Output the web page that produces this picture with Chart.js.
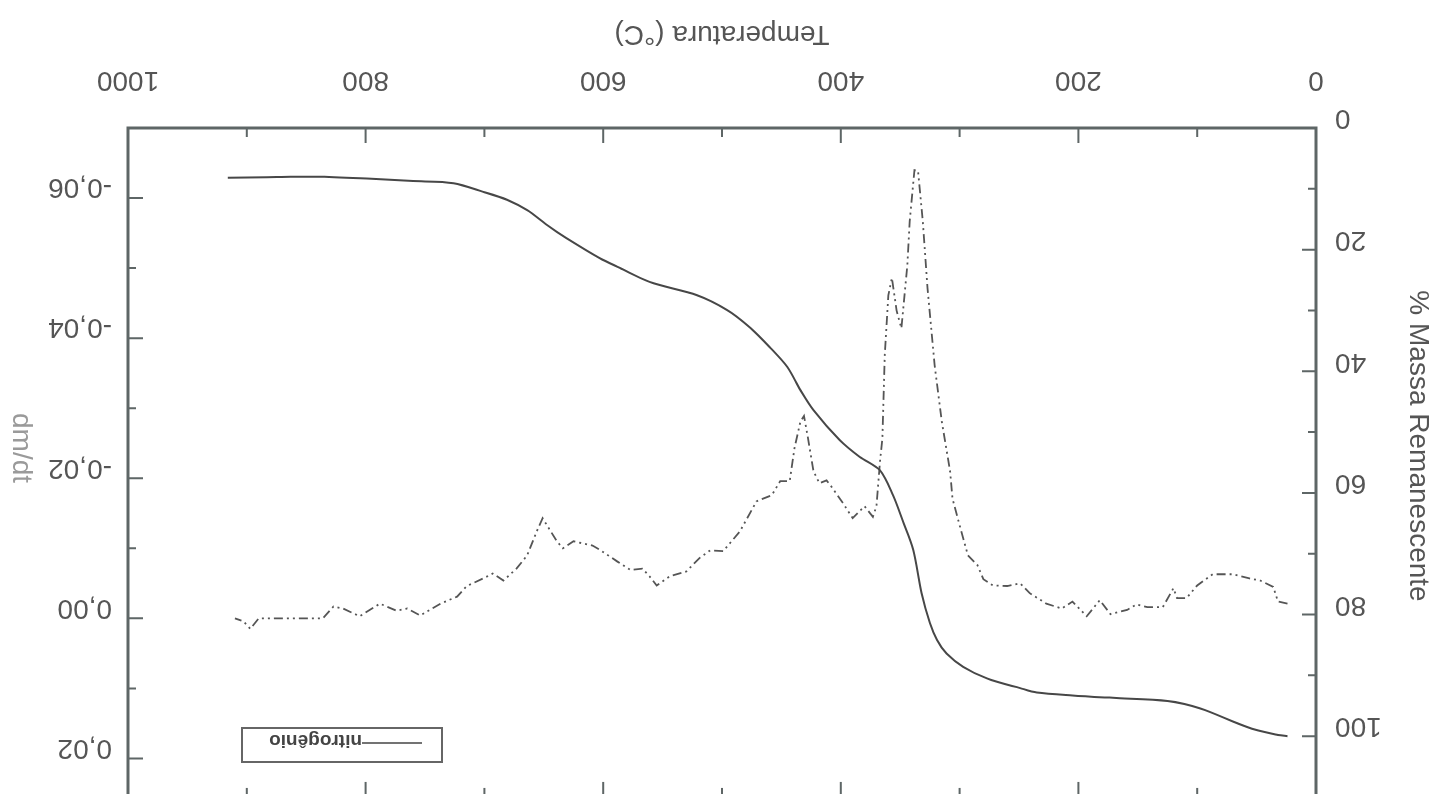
<!DOCTYPE html>
<html>
<head>
<meta charset="utf-8">
<script src="https://cdn.jsdelivr.net/npm/chart.js@4"></script>
<style>
  html, body { margin: 0; padding: 0; background: #fff; overflow: hidden; }
  /* the scanned figure is upside down, so the whole chart is turned 180deg */
  #wrap { position: absolute; left: 0; top: 0; width: 1438px; height: 850px; transform: rotate(180deg); }
</style>
</head>
<body>
<div id="wrap"><canvas id="myC" width="1438" height="850"></canvas></div>
<script>
// % massa remanescente (curva cheia)
const massTemp = [24, 32, 58, 98, 125, 171, 205, 235, 249, 277, 297, 311, 319, 325, 332, 339, 348, 356, 367, 384, 401, 423, 434, 445, 460, 476, 496, 521, 561, 586, 603, 631, 647, 664, 681, 701, 726, 760, 799, 841, 883, 916];
const massVal = [100, 99.8, 98.5, 95.4, 94.2, 93.7, 93.3, 92.8, 92.1, 90.5, 88.6, 86.4, 84.2, 81.4, 76.5, 69.4, 64.5, 60.4, 56.3, 54.1, 51.3, 46.4, 43.1, 39.3, 36.0, 32.9, 29.9, 27.5, 25.3, 23.0, 21.4, 18.1, 16.0, 13.5, 11.8, 10.5, 9.1, 8.7, 8.3, 8.0, 8.1, 8.2];

// dm/dt (curva traco-ponto-ponto)
const dmdtTemp = [24, 32, 36, 47, 56, 70, 87, 100, 109, 117, 120, 129, 142, 151, 159, 173, 182, 193, 205, 214, 227, 241, 249, 260, 272, 280, 285, 293, 300, 306, 308, 315, 321, 327, 331, 335, 338, 342, 344, 349, 353, 357, 360, 363, 365, 367, 370, 373, 380, 390, 398, 407, 412, 418, 423, 428, 431, 434, 439, 443, 451, 458, 471, 485, 499, 510, 519, 530, 544, 555, 561, 567, 577, 588, 603, 609, 625, 634, 639, 651, 656, 664, 673, 684, 693, 701, 715, 723, 737, 754, 765, 774, 788, 805, 819, 827, 836, 855, 883, 890, 897, 903, 910];
const dmdtVal = [-0.0021, -0.0024, -0.0045, -0.0054, -0.0057, -0.0063, -0.0063, -0.0047, -0.0029, -0.0029, -0.0043, -0.0016, -0.0016, -0.0020, -0.0012, -0.0006, -0.0026, -0.0003, -0.0024, -0.0014, -0.0021, -0.0036, -0.0050, -0.0046, -0.0047, -0.0056, -0.0076, -0.0090, -0.0133, -0.0171, -0.0210, -0.0281, -0.0361, -0.0471, -0.0567, -0.0639, -0.0640, -0.0567, -0.0504, -0.0414, -0.0439, -0.0486, -0.0461, -0.0376, -0.0257, -0.0224, -0.0160, -0.0145, -0.0160, -0.0143, -0.0164, -0.0186, -0.0197, -0.0193, -0.0210, -0.0261, -0.0289, -0.0281, -0.0243, -0.0196, -0.0196, -0.0176, -0.0167, -0.0124, -0.0096, -0.0097, -0.0086, -0.0067, -0.0060, -0.0047, -0.0060, -0.0071, -0.0069, -0.0081, -0.0098, -0.0104, -0.0110, -0.0100, -0.0110, -0.0143, -0.0124, -0.0090, -0.0071, -0.0054, -0.0064, -0.0057, -0.0046, -0.0031, -0.0021, -0.0004, -0.0014, -0.0011, -0.0021, -0.0003, -0.0014, -0.0017, 0, 0, 0, 0, 0.0015, 0.0004, 0];

// eixos
const tempTicks = [0, 200, 400, 600, 800, 1000];
const tempMarks = [0, 100, 200, 300, 400, 500, 600, 700, 800, 900, 1000];
const massTicks = [0, 20, 40, 60, 80, 100];
const massMarks = [10, 20, 30, 40, 50, 60, 70, 80, 90, 100, 110];
const dmdtTicks = [-0.06, -0.04, -0.02, 0, 0.02];
const dmdtMarks = [-0.06, -0.05, -0.04, -0.03, -0.02, -0.01, 0, 0.01, 0.02];

const legendLabel = 'nitrogênio';
const xTitle = 'Temperatura (°C)';
const yTitle = '% Massa Remanescente';
const y2Title = 'dm/dt';

const FONT = '"Liberation Sans", Arial, sans-serif';
const axisColor = '#5e6666';
const textColor = '#555';

const isMajor = (v, list) => list.some(t => Math.abs(t - v) < 1e-9);

const framePlugin = {
  id: 'frame',
  afterDatasetsDraw(chart) {
    const { ctx, chartArea: a, scales } = chart;
    ctx.save();
    // moldura
    ctx.strokeStyle = axisColor;
    ctx.lineWidth = 3;
    ctx.strokeRect(a.left, a.top, a.right - a.left, a.bottom - a.top);

    // tracos para dentro
    ctx.lineWidth = 2;
    ctx.beginPath();
    tempMarks.forEach(v => {
      const x = scales.x.getPixelForValue(v);
      const len = isMajor(v, tempTicks) ? 15 : 9;
      ctx.moveTo(x, a.bottom); ctx.lineTo(x, a.bottom - len);
      ctx.moveTo(x, a.top); ctx.lineTo(x, a.top + len);
    });
    massMarks.forEach(v => {
      const y = scales.yMass.getPixelForValue(v);
      const len = isMajor(v, massTicks) ? 14 : 8;
      ctx.moveTo(a.left, y); ctx.lineTo(a.left + len, y);
    });
    dmdtMarks.forEach(v => {
      const y = scales.yD.getPixelForValue(v);
      const len = isMajor(v, dmdtTicks) ? 15 : 8;
      ctx.moveTo(a.right, y); ctx.lineTo(a.right - len, y);
    });
    ctx.stroke();

    // legenda
    const bx = a.right - 314, by = a.top + 35;
    ctx.lineWidth = 2;
    ctx.strokeStyle = '#666';
    ctx.strokeRect(bx, by, 200, 34);
    ctx.strokeStyle = '#444';
    ctx.lineWidth = 1.5;
    ctx.beginPath();
    ctx.moveTo(bx + 20, by + 19); ctx.lineTo(bx + 80, by + 19);
    ctx.stroke();
    ctx.fillStyle = '#444';
    ctx.font = '600 19px ' + FONT;
    ctx.textAlign = 'left';
    ctx.textBaseline = 'middle';
    ctx.fillText(legendLabel, bx + 80, by + 22);

    // titulos dos eixos
    ctx.fillStyle = textColor;
    ctx.font = '28px ' + FONT;
    ctx.textAlign = 'center';
    ctx.textBaseline = 'middle';
    ctx.fillText(xTitle, (a.left + a.right) / 2, a.bottom + 94);

    ctx.textBaseline = 'alphabetic';
    ctx.save();
    ctx.translate(a.left - 94, 404);
    ctx.rotate(-Math.PI / 2);
    ctx.fillText(yTitle, 0, 0);
    ctx.restore();

    ctx.save();
    ctx.fillStyle = '#9a9a9a';
    ctx.translate(a.right + 115, 402);
    ctx.rotate(-Math.PI / 2);
    ctx.fillText(y2Title, 0, 0);
    ctx.restore();

    ctx.restore();
  }
};

const ctx = document.querySelector('#myC').getContext('2d');

new Chart(ctx, {
  type: 'line',
  data: {
    datasets: [{
      label: legendLabel,
      data: massTemp.map((t, i) => ({ x: t, y: massVal[i] })),
      yAxisID: 'yMass',
      borderColor: '#474747',
      borderWidth: 2,
      pointRadius: 0,
      tension: 0.3,
      fill: false,
    }, {
      label: 'dm/dt',
      data: dmdtTemp.map((t, i) => ({ x: t, y: dmdtVal[i] })),
      yAxisID: 'yD',
      borderColor: '#555',
      borderWidth: 1.8,
      borderDash: [9, 4, 2, 4, 2, 4],
      pointRadius: 0,
      tension: 0,
      fill: false,
    }]
  },
  options: {
    responsive: false,
    animation: false,
    layout: { padding: { top: 53, left: 0, right: 0, bottom: 0 } },
    scales: {
      x: {
        type: 'linear',
        position: 'bottom',
        min: 0,
        max: 1000,
        afterBuildTicks: s => { s.ticks = tempTicks.map(v => ({ value: v })); },
        afterFit: s => { s.height = 128; },
        grid: { display: false, drawTicks: false },
        border: { display: false },
        ticks: {
          color: textColor,
          font: { family: FONT, size: 28 },
          padding: 31,
          maxRotation: 0,
          autoSkip: false,
          callback: v => String(v)
        }
      },
      yMass: {
        position: 'left',
        min: 0,
        max: 110,
        afterBuildTicks: s => { s.ticks = massTicks.map(v => ({ value: v })); },
        afterFit: s => { s.width = 122; },
        grid: { display: false, drawTicks: false },
        border: { display: false },
        ticks: {
          color: textColor,
          font: { family: FONT, size: 28 },
          padding: 19,
          labelOffset: 10,
          autoSkip: false,
          callback: v => String(v)
        }
      },
      yD: {
        position: 'right',
        min: -0.07,
        max: 0.0255,
        afterBuildTicks: s => { s.ticks = dmdtTicks.map(v => ({ value: v })); },
        afterFit: s => { s.width = 128; },
        grid: { display: false, drawTicks: false },
        border: { display: false },
        ticks: {
          color: textColor,
          font: { family: FONT, size: 28 },
          padding: 16,
          labelOffset: 11,
          autoSkip: false,
          callback: v => v.toFixed(2).replace('.', ',')
        }
      }
    },
    plugins: {
      legend: { display: false },
      tooltip: { enabled: false }
    }
  },
  plugins: [framePlugin]
});
</script>
</body>
</html>
